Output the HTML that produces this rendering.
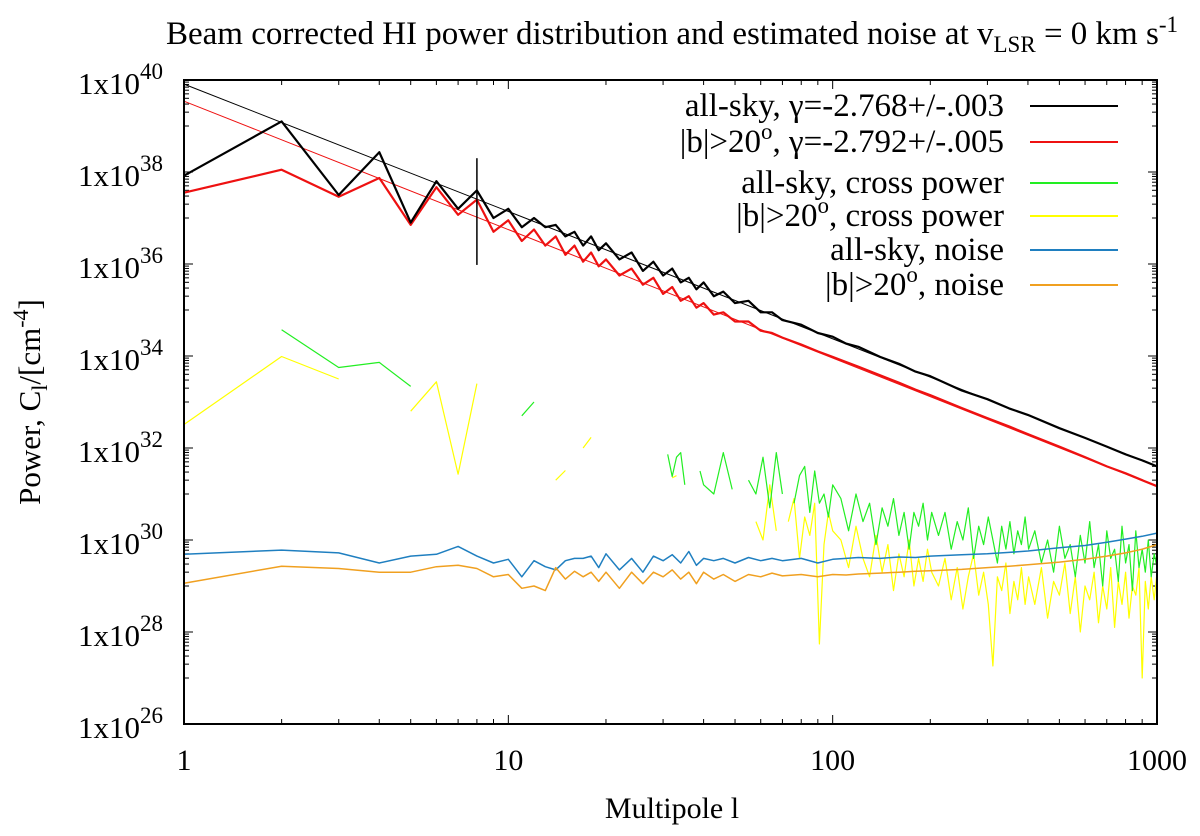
<!DOCTYPE html>
<html><head><meta charset="utf-8"><style>
html,body{margin:0;padding:0;background:#fff;}
svg{display:block;font-family:"Liberation Serif","DejaVu Serif",serif;}
</style></head><body>
<svg id="chart" width="1200" height="836" viewBox="0 0 1200 836" xmlns="http://www.w3.org/2000/svg">
<text x="672" y="44" font-size="33" text-anchor="middle">Beam corrected HI power distribution and estimated noise at v<tspan font-size="23" dy="8">LSR</tspan><tspan dy="-8"> = 0 km s</tspan><tspan font-size="23" dy="-12">-1</tspan></text>
<text transform="translate(40,402) rotate(-90)" font-size="31" text-anchor="middle">Power,  C<tspan font-size="22" dy="7">l</tspan><tspan dy="-7">/[cm</tspan><tspan font-size="22" dy="-12">-4</tspan><tspan dy="12">]</tspan></text>
<text x="672" y="818" font-size="30" text-anchor="middle">Multipole l</text>
<g id="grid-ticks"></g>
<g id="plot"></g>
<rect x="184" y="80" width="973" height="644" fill="none" stroke="#000" stroke-width="2"/>
<g id="legend"></g>
</svg>
<script>
const lMain=[1,2,3,4,5,6,7,8,9,10,11,12,13,14,15,16,17,18,19,20,22,24,26,28,30,32,34,36,38,40,43,46,50,55,60,65,70,80,90,100,110,120,140,160,180,200,250,300,350,400,500,600,700,800,900,1000];
const allSky=[37.92,39.1,37.5,38.43,36.9,37.8,37.2,37.6,37.0,37.2,36.8,37.0,36.8,36.85,36.6,36.7,36.4,36.6,36.3,36.45,36.1,36.25,35.85,36.05,35.75,35.9,35.6,35.7,35.45,35.6,35.3,35.4,35.15,35.2,34.95,34.95,34.78,34.68,34.5,34.42,34.27,34.2,33.98,33.83,33.66,33.56,33.25,33.06,32.86,32.72,32.43,32.22,32.03,31.86,31.73,31.6];
const highLat=[37.55,38.05,37.46,37.87,36.85,37.67,37.07,37.4,36.7,36.95,36.5,36.75,36.4,36.6,36.2,36.4,36.05,36.25,35.95,36.1,35.75,35.9,35.55,35.7,35.35,35.5,35.2,35.3,35.05,35.15,34.9,34.95,34.75,34.75,34.55,34.5,34.4,34.25,34.1,33.98,33.87,33.77,33.58,33.42,33.27,33.15,32.87,32.65,32.47,32.3,32.03,31.8,31.6,31.45,31.3,31.17];
const noiseAll=[29.69,29.78,29.72,29.5,29.65,29.69,29.86,29.65,29.5,29.58,29.2,29.55,29.42,29.35,29.55,29.6,29.6,29.65,29.4,29.7,29.35,29.6,29.3,29.65,29.55,29.68,29.5,29.75,29.45,29.6,29.55,29.6,29.5,29.62,29.55,29.6,29.55,29.6,29.5,29.58,29.6,29.62,29.6,29.63,29.62,29.65,29.68,29.7,29.73,29.76,29.83,29.88,29.95,30.02,30.08,30.15];
const noiseHigh=[29.06,29.43,29.38,29.3,29.3,29.42,29.45,29.38,29.2,29.25,28.95,29.0,28.9,29.4,29.15,29.32,29.2,29.3,29.1,29.3,28.95,29.3,29.05,29.3,29.2,29.35,29.15,29.3,29.05,29.3,29.15,29.25,29.1,29.25,29.2,29.28,29.22,29.25,29.2,29.25,29.24,29.26,29.28,29.3,29.32,29.33,29.36,29.4,29.43,29.46,29.52,29.58,29.65,29.72,29.8,29.9];
const fitAll=[39.91,-2.768];
const fitHigh=[39.54,-2.792];
const errL=8, errLo=35.98, errHi=38.3;
const lCross=[1,2,3,4,5,6,7,8,9,10,11,12,13,14,15,16,17,18,19,20,21,22,23,24,25,26,27,28,29,30,31,32,33,34,35,36,37,38,39,40,
43,46,49,52,55,58,61,64,67,70,73,76,79,82,85,88,91,94,97,100,
106,112,118,124,130,136,142,148,154,160,166,172,178,184,190,196,202,
212,222,232,242,252,262,272,282,292,302,312,322,332,342,352,362,372,382,392,402,
420,440,460,480,500,520,540,560,580,600,620,640,660,680,700,720,740,760,780,800,820,840,860,880,900,920,940,960,980,1000];
const crossAll=[null,34.57,33.75,33.86,33.34,null,null,null,null,null,32.7,33.0,null,null,null,null,null,null,null,null,null,null,null,null,null,null,null,null,null,null,31.86,31.38,31.8,31.9,31.2,null,null,null,31.5,31.2,
31.0,31.9,31.1,null,31.3,31.0,31.8,30.7,31.9,31.0,null,30.8,31.4,31.6,30.6,31.5,30.8,31.0,30.5,31.2,
30.9,30.2,31.0,30.4,30.8,29.9,30.7,30.3,30.9,30.1,30.6,29.8,30.6,30.3,30.8,30.0,30.6,
30.1,30.6,29.8,30.4,30.0,30.7,29.6,30.3,29.9,30.5,30.0,29.5,30.3,29.8,30.4,29.7,30.2,29.9,30.5,29.8,
30.2,29.5,30.0,29.3,30.3,29.6,29.9,29.2,30.1,29.5,30.4,29.4,29.9,29.0,30.2,29.6,29.8,29.1,30.3,29.5,29.9,28.9,30.2,29.4,29.8,29.3,30.0,29.2,29.7,29.4];
const crossHigh=[32.51,33.99,33.5,null,32.8,33.44,31.43,33.4,null,null,null,null,null,31.3,31.51,null,32.0,32.23,null,null,null,null,null,null,null,null,null,null,null,null,null,31.35,31.4,null,null,null,null,null,null,null,
null,31.4,null,31.0,null,30.4,30.0,31.2,30.2,null,30.4,30.9,29.6,30.5,30.1,30.8,27.74,29.9,30.6,30.2,
30.0,29.4,30.3,29.6,29.2,30.1,29.3,29.9,28.9,29.7,29.2,30.0,29.0,29.6,29.1,29.8,29.3,
29.0,29.6,28.7,29.4,28.5,29.2,29.7,28.8,29.3,28.6,27.26,29.2,28.9,29.5,28.4,29.1,28.7,29.4,28.6,29.2,
28.6,29.4,28.3,29.1,28.8,29.5,28.4,29.2,28.0,29.0,28.7,29.3,28.2,29.0,28.5,29.4,28.1,29.1,28.6,29.3,28.3,29.0,28.8,29.4,27.0,29.1,28.5,29.2,28.7,29.3];
const yTickExps=[40,38,36,34,32,30,28,26];
const xTickVals=[1,10,100,1000];

const X0=184,X1=1157,Y0=80,Y1=724;
const xs=l=>X0+(X1-X0)*Math.log10(l)/3;
const ys=v=>Y0+(Y1-Y0)*(40-v)/14;
const NS="http://www.w3.org/2000/svg";
function mk(tag,attrs,parent){const e=document.createElementNS(NS,tag);for(const k in attrs)e.setAttribute(k,attrs[k]);parent.appendChild(e);return e;}
const plot=document.getElementById('plot'), tk=document.getElementById('grid-ticks');

yTickExps.forEach(e=>{
  const y=ys(e);
  const t1=mk('line',{x1:X0,x2:X0+9,y1:y,y2:y,stroke:'#000','stroke-width':1},tk);
  
  
  mk('line',{x1:X1,x2:X1-9,y1:y,y2:y,stroke:'#000','stroke-width':1},tk);
  if(e>26){for(let m=1;m<=9;m++){const yy=ys(e-2+1+Math.log10(m));
    mk('line',{x1:X0,x2:X0+5,y1:yy,y2:yy,stroke:'#000','stroke-width':1},tk);
    mk('line',{x1:X1,x2:X1-5,y1:yy,y2:yy,stroke:'#000','stroke-width':1},tk);}}
  const tx=mk('text',{x:X0-21,y:y+14,'font-size':31,'text-anchor':'end'},tk);
  
  
  tx.textContent='1x10';
  const sp=mk('tspan',{'font-size':23,dy:-15},tx);sp.textContent=String(e);
});
xTickVals.forEach((v,i)=>{
  const x=xs(v);
  mk('line',{x1:x,x2:x,y1:Y1,y2:Y1-9,stroke:'#000','stroke-width':1},tk);
  mk('line',{x1:x,x2:x,y1:Y0,y2:Y0+9,stroke:'#000','stroke-width':1},tk);
  if(i<3){for(let m=2;m<=9;m++){const xx=xs(v*m);
    mk('line',{x1:xx,x2:xx,y1:Y1,y2:Y1-5,stroke:'#000','stroke-width':1},tk);
    mk('line',{x1:xx,x2:xx,y1:Y0,y2:Y0+5,stroke:'#000','stroke-width':1},tk);}}
  const tx=mk('text',{x:x,y:Y1+46,'font-size':30,'text-anchor':'middle'},tk);
  
  
  tx.textContent=String(v);
});

function series(ls,vals,color,w,name){
  let d='',pen=false;
  ls.forEach((l,i)=>{const v=vals[i];if(v===null){pen=false;return;}
    d+=(pen?'L':'M')+xs(l).toFixed(1)+' '+ys(v).toFixed(1);pen=true;});
  const p=mk('path',{d:d,fill:'none',stroke:color,'stroke-width':w,'stroke-linejoin':'round'},plot);
  
  
}
function fit(c,color,name){
  const p=mk('line',{x1:xs(1),y1:ys(c[0]),x2:xs(1000),y2:ys(c[0]+c[1]*3),stroke:color,'stroke-width':1},plot);
  
  
}
series(lCross,crossHigh,'#ffff00',1.2,'cross-power-high-lat-line');
series(lCross,crossAll,'#22ee22',1.2,'cross-power-all-sky-line');
series(lMain,noiseAll,'#1f7fc0',1.5,'noise-all-sky-line');
series(lMain,noiseHigh,'#f0a020',1.5,'noise-high-lat-line');
fit(fitHigh,'#ee1111','fit-high-lat-line');
fit(fitAll,'#000','fit-all-sky-line');
series(lMain,highLat,'#ee1111',2.2,'power-high-lat-line');
series(lMain,allSky,'#000',2.2,'power-all-sky-line');
const eb=mk('line',{x1:xs(errL),x2:xs(errL),y1:ys(errHi),y2:ys(errLo),stroke:'#000','stroke-width':1.5},plot);



const lg=document.getElementById('legend');
const items=[
 ['all-sky, γ=-2.768+/-.003','#000',106,null],
 ['|b|>20','#ee1111',142,', γ=-2.792+/-.005'],
 ['all-sky, cross power','#22ee22',183,null],
 ['|b|>20','#ffff00',216,', cross power'],
 ['all-sky, noise','#1f7fc0',250,null],
 ['|b|>20','#f0a020',285,', noise']];
items.forEach(it=>{
  const g=mk('g',{},lg);
  
  
  const t=mk('text',{x:1004,y:it[2]+10,'font-size':33,'text-anchor':'end'},g);
  if(it[3]===null){t.textContent=it[0];}
  else{const a=mk('tspan',{},t);a.textContent=it[0];
    const b=mk('tspan',{'font-size':23,dy:-13},t);b.textContent='o';
    const c=mk('tspan',{dy:13},t);c.textContent=it[3];}
  mk('line',{x1:1030,x2:1118,y1:it[2],y2:it[2],stroke:it[1],'stroke-width':2},g);
});
</script>
</body></html>
